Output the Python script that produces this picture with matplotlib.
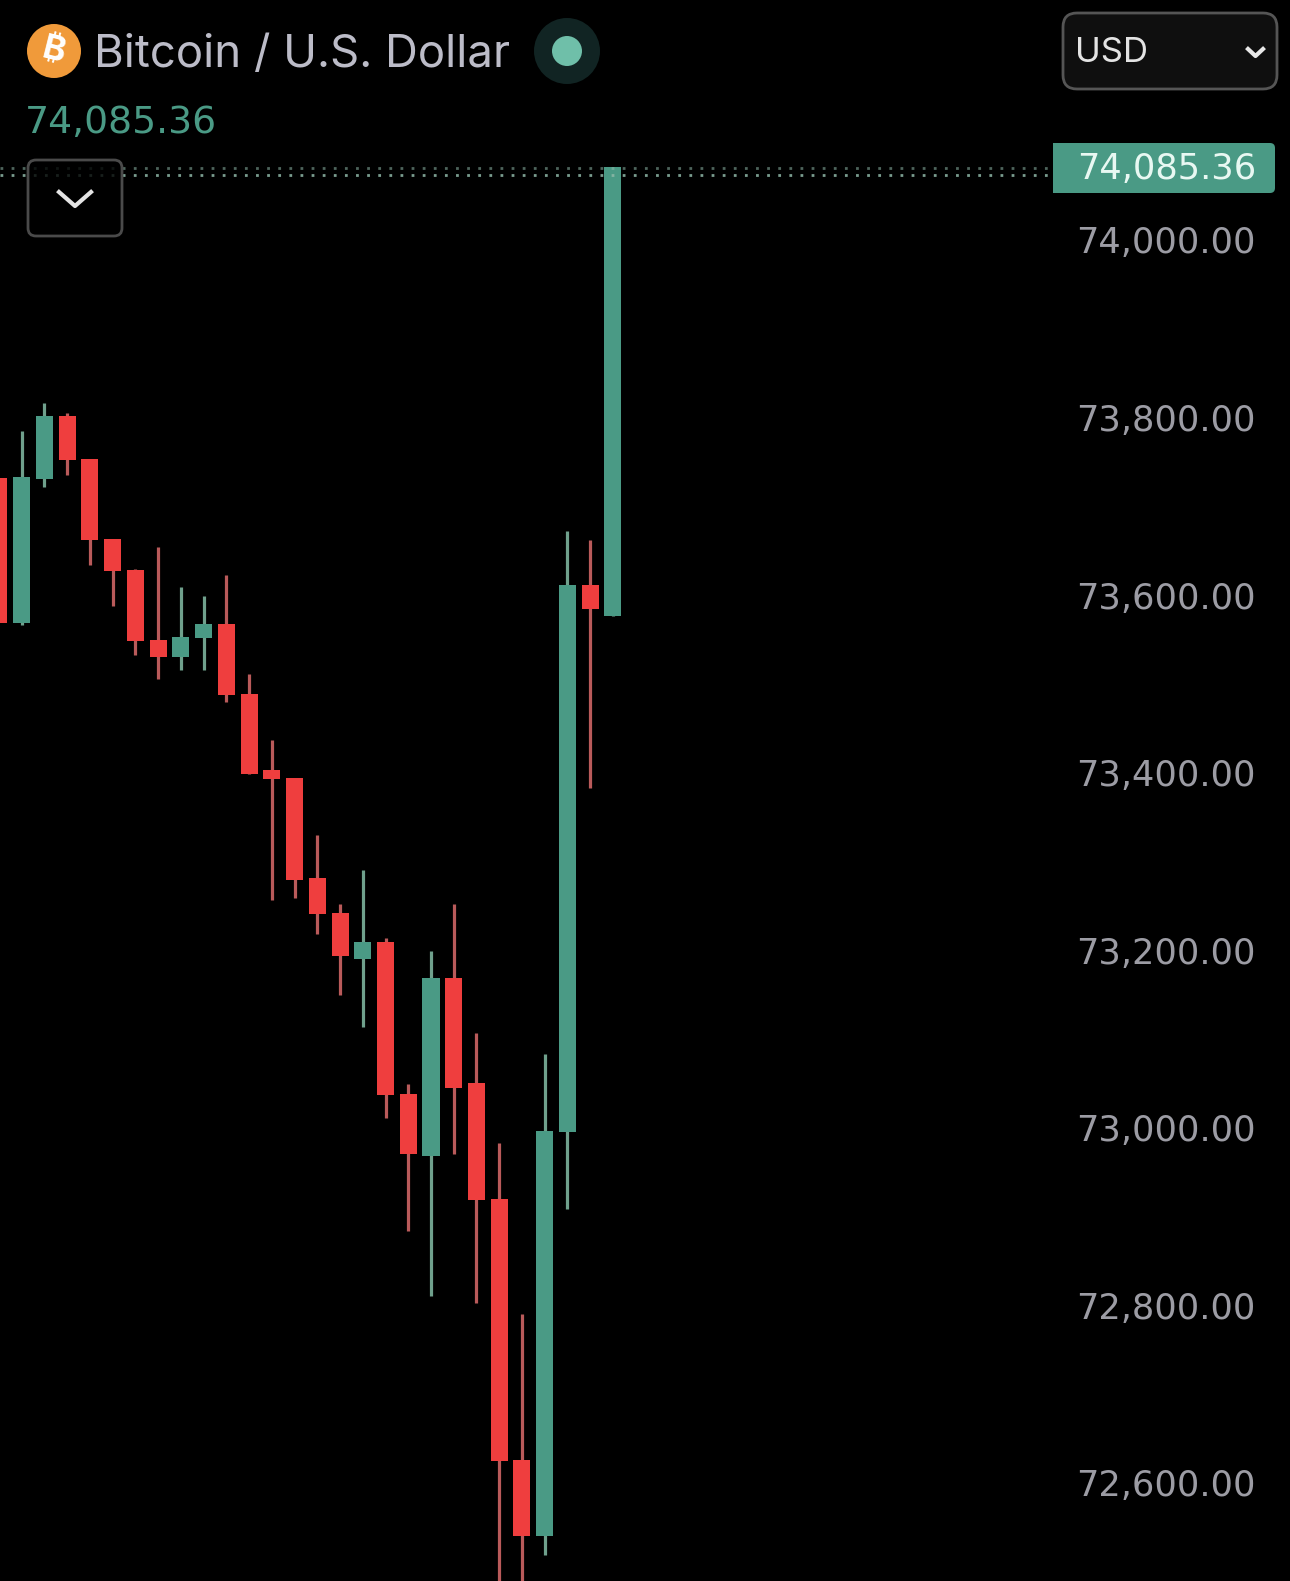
import matplotlib
matplotlib.use('Agg')
from matplotlib import pyplot as plt
from matplotlib.patches import Circle, FancyBboxPatch, Rectangle
from matplotlib.transforms import ScaledTranslation

# candles, oldest first
opens = [73735, 73572, 73734, 73805, 73757, 73666, 73632, 73553, 73534, 73555,
         73571, 73492, 73406, 73397, 73284, 73245, 73193, 73212, 73041, 72971,
         73172, 73054, 72923, 72629, 72543, 72998, 73615, 73580]
closes = [73572, 73736, 73805, 73755, 73665, 73630, 73552, 73534, 73556, 73571,
          73491, 73402, 73396, 73282, 73244, 73197, 73212, 73040, 72974, 73172,
          73048, 72922, 72628, 72543, 72999, 73615, 73588, 74085.36]
highs = [73735, 73788, 73820, 73808, 73757, 73666, 73633, 73657, 73612, 73602,
         73626, 73514, 73440, 73397, 73333, 73255, 73294, 73217, 73052, 73202,
         73255, 73110, 72986, 72793, 73086, 73676, 73665, 74085.36]
lows = [73572, 73570, 73725, 73739, 73637, 73591, 73536, 73509, 73519, 73519,
        73483, 73402, 73260, 73262, 73221, 73153, 73117, 73014, 72887, 72814,
        72974, 72806, 72480, 72470, 72522, 72912, 73386, 73580]

price_ticks = [74000, 73800, 73600, 73400, 73200, 73000, 72800, 72600]
last_price = 74085.36

GREEN = '#4a9a85'
RED = '#ef3e3e'
GREEN_WICK = '#6fa08c'
RED_WICK = '#b95a5a'
FONT = ['Inter', 'DejaVu Sans']
NUM_FONT = ['DejaVu Sans']

fig = plt.figure(figsize=(12.9, 15.81), dpi=100, facecolor='black')

# chart, fills the whole picture
ax = fig.add_axes([0, 0, 1, 1], facecolor='black')
ax.set_xlim(0.046, 56.776)
ax.set_ylim(72492.4, 74273.8)
for s in ax.spines.values():
    s.set_visible(False)
ax.set_xticks([])
ax.yaxis.tick_right()
ax.set_yticks(price_ticks)
ax.set_yticklabels(['{:,.2f}'.format(p) for p in price_ticks], family=NUM_FONT, fontsize=25.3,
                   color='#9c9ca4')
ax.tick_params(axis='y', length=0, pad=-153.8)
# labels sit a little above their tick position
for tick in ax.yaxis.get_major_ticks():
    tick.label2.set_transform(tick.label2.get_transform() + ScaledTranslation(0, 3 / 100, fig.dpi_scale_trans))

xs = list(range(len(opens)))
colors = [GREEN if c >= o else RED for o, c in zip(opens, closes)]
wick_colors = [GREEN_WICK if c >= o else RED_WICK for o, c in zip(opens, closes)]
bottoms = [min(o, c) for o, c in zip(opens, closes)]
heights = [abs(c - o) for o, c in zip(opens, closes)]

ax.vlines(xs, lows, highs, colors=wick_colors, linewidth=2.3, zorder=3)
ax.bar(xs, heights, bottom=bottoms, width=0.75, color=colors, linewidth=0, zorder=4)

# header and widgets, drawn in picture pixels
ui = fig.add_axes([0, 0, 1, 1], facecolor='none')
ui.set_xlim(0, 1290)
ui.set_ylim(1581, 0)
ui.axis('off')

# price line, two dotted rows
for y, a in [(168, 0.55), (175, 0.85)]:
    ui.plot([0, 1050], [y, y], color='#8fb8a8', lw=2, alpha=a, linestyle=(0, (1, 3)), zorder=2)

ui.add_patch(Circle((54, 51), 27, fc='#f09a3a', ec='none'))
ui.text(54, 51, '\u20bf', family=['Inter', 'Noto Sans', 'Roboto', 'Open Sans', 'Lato', 'Liberation Sans'],
        fontsize=25, fontweight='bold', color='white', rotation=-14, ha='center', va='center')
ui.text(94, 55, 'Bitcoin / U.S. Dollar', family=FONT, fontsize=32.8, color='#bcbcc8',
        ha='left', va='center')
ui.add_patch(Circle((567, 51), 33, fc='#112423', ec='none'))
ui.add_patch(Circle((567, 51), 15, fc='#6fbfa9', ec='none'))
ui.text(25, 123, '74,085.36', family=NUM_FONT, fontsize=27.2, color=GREEN, ha='left', va='center')

# collapse button
ui.add_patch(FancyBboxPatch((35, 167), 80, 62, boxstyle='round,pad=7,rounding_size=8',
                            fc='#000000cc', ec='#4a4a4a', lw=2, zorder=3))
ui.plot([59, 75, 91], [192, 206, 192], color='#e4e4e4', lw=3, zorder=4)

# currency select
ui.add_patch(FancyBboxPatch((1077, 27), 186, 48, boxstyle='round,pad=14,rounding_size=14',
                            fc='#0f0f0f', ec='#555555', lw=2))
ui.text(1075, 53, 'USD', family=FONT, fontsize=25, color='#e4e4e4', ha='left', va='center')
ui.plot([1248, 1255.5, 1263], [49, 56, 49], color='#e8e8e8', lw=3)

# last price tag
ui.add_patch(FancyBboxPatch((1058, 148), 212, 40, boxstyle='round,pad=5,rounding_size=5',
                            fc=GREEN, ec='none', zorder=3))
ui.add_patch(Rectangle((1053, 143), 20, 50, fc=GREEN, ec='none', zorder=3))
ui.text(1077, 169, '{:,.2f}'.format(last_price), family=NUM_FONT, fontsize=25.3,
        color='#e8f8f2', ha='left', va='center', zorder=4)

fig.savefig('out.png', dpi=100, facecolor='black')
